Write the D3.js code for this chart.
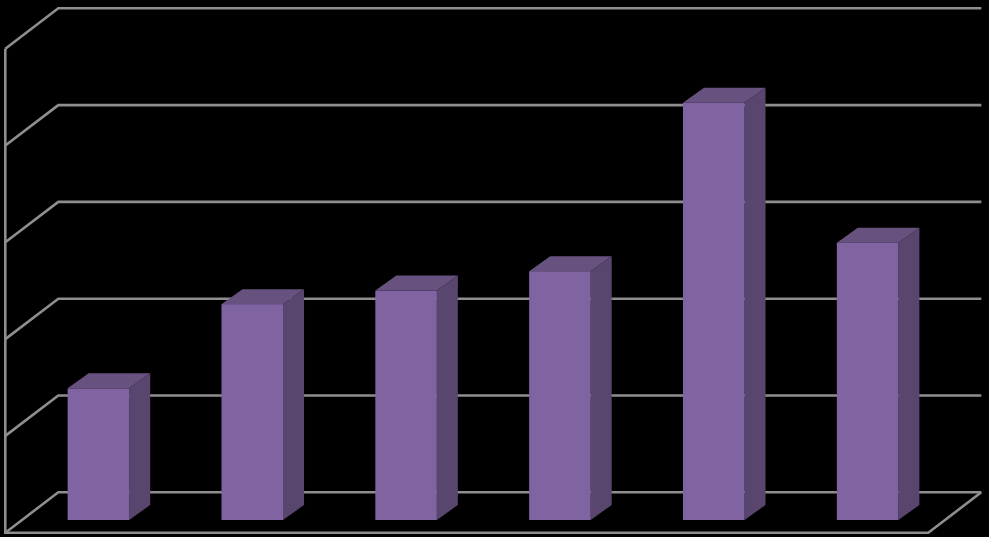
<!DOCTYPE html>
<html>
<head>
<meta charset="utf-8">
<script src="https://cdn.jsdelivr.net/npm/d3@7"></script>
<style>
  html, body { margin: 0; padding: 0; background: #000; overflow: hidden; }
  svg { display: block; }
</style>
</head>
<body>
<svg id="chart" width="989" height="537"></svg>
<script>
// The picture has no labels, so categories are just numbered
const categories = ["1", "2", "3", "4", "5", "6"];
const values = [1.36, 2.23, 2.37, 2.57, 4.31, 2.865];
const yTicks = [0, 1, 2, 3, 4, 5];

const width = 989, height = 537;
const front = { left: 5.3, right: 928.3, bottom: 532.7, top: 48.7 };
const wallDepth = { x: 53, y: -40.4 };
const barDepth = { x: 21, y: -15 };
const barInset = { x: 16.2, y: -12.7 };

const svg = d3.select("#chart");

svg.append("rect")
  .attr("width", width)
  .attr("height", height)
  .attr("fill", "#000");

const x = d3.scaleBand()
  .domain(categories)
  .range([front.left + barInset.x, front.right + barInset.x])
  .paddingInner(0.6)
  .paddingOuter(0.3);

const y = d3.scaleLinear()
  .domain([0, 5])
  .range([front.bottom, front.top]);

// Walls and gridlines
const grid = svg.append("g")
  .attr("fill", "none")
  .attr("stroke", "#8e8e8e")
  .attr("stroke-width", 2.6);

grid.selectAll("path.gridline")
  .data(yTicks)
  .enter()
  .append("path")
  .attr("class", "gridline")
  .attr("d", d => {
    const p = d3.path();
    p.moveTo(front.left, y(d));
    p.lineTo(front.left + wallDepth.x, y(d) + wallDepth.y);
    p.lineTo(front.right + wallDepth.x, y(d) + wallDepth.y);
    return p.toString();
  });

// Left edge and front and right edges of the floor
grid.append("path")
  .attr("d", () => {
    const p = d3.path();
    p.moveTo(front.left, y(5));
    p.lineTo(front.left, y(0));
    p.lineTo(front.right, y(0));
    p.lineTo(front.right + wallDepth.x, y(0) + wallDepth.y);
    return p.toString();
  });

// Bars, each one made of three faces
const bars = svg.selectAll("g.bar")
  .data(categories.map((c, i) => ({ category: c, value: values[i] })))
  .enter()
  .append("g")
  .attr("class", "bar");

const baseY = y(0) + barInset.y;
const barTop = d => y(d.value) + barInset.y;
const poly = pts => "M" + pts.map(p => p.join(",")).join("L") + "Z";

bars.append("path")
  .attr("fill", "#67517f")
  .attr("d", d => {
    const l = x(d.category), r = l + x.bandwidth(), t = barTop(d);
    return poly([[l, t], [l + barDepth.x, t + barDepth.y], [r + barDepth.x, t + barDepth.y], [r, t]]);
  });

bars.append("path")
  .attr("fill", "#59466f")
  .attr("d", d => {
    const r = x(d.category) + x.bandwidth(), t = barTop(d);
    return poly([[r, t], [r + barDepth.x, t + barDepth.y], [r + barDepth.x, baseY + barDepth.y], [r, baseY]]);
  });

bars.append("rect")
  .attr("fill", "#8064a2")
  .attr("x", d => x(d.category))
  .attr("y", d => barTop(d))
  .attr("width", x.bandwidth())
  .attr("height", d => baseY - barTop(d));
</script>
</body>
</html>
